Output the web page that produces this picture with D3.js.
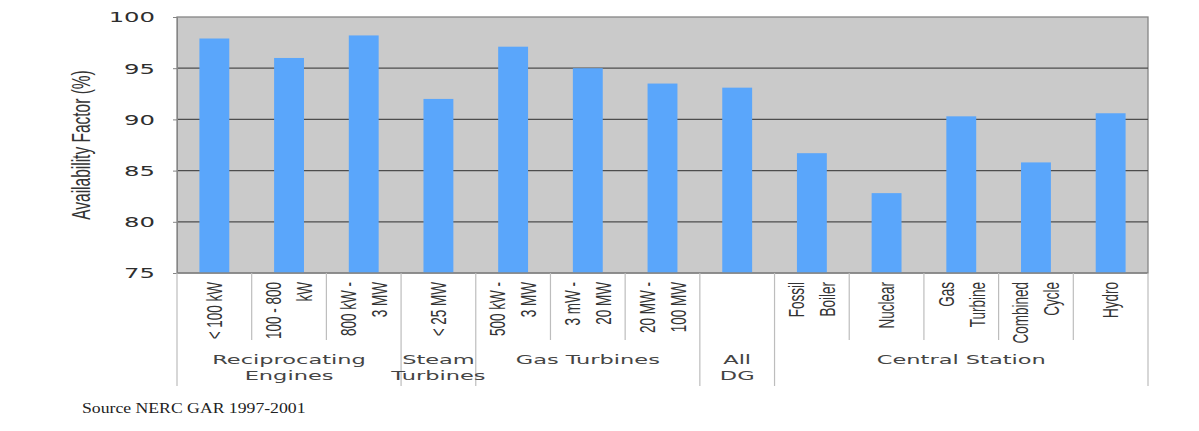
<!DOCTYPE html>
<html>
<head>
<meta charset="utf-8">
<script src="https://cdnjs.cloudflare.com/ajax/libs/d3/7.8.5/d3.min.js"></script>
<style>
  body { margin: 0; background: #fff; }
  svg { display: block; }
</style>
</head>
<body>
<div id="chart"></div>
<script>
// data
const categories = ["< 100 kW", "100 - 800 kW", "800 kW - 3 MW", "< 25 MW", "500 kW - 3 MW",
  "3 mW - 20 MW", "20 MW - 100 MW", "All DG", "Fossil Boiler", "Nuclear", "Gas Turbine",
  "Combined Cycle", "Hydro"];
const categoryLines = [["< 100 kW"], ["100 - 800", "kW"], ["800 kW -", "3 MW"], ["< 25 MW"],
  ["500 kW -", "3 MW"], ["3 mW -", "20 MW"], ["20 MW -", "100 MW"], [], ["Fossil", "Boiler"],
  ["Nuclear"], ["Gas", "Turbine"], ["Combined", "Cycle"], ["Hydro"]];
const availability = [97.9, 96.0, 98.2, 92.0, 97.1, 95.0, 93.5, 93.1, 86.7, 82.8, 90.3, 85.8, 90.6];
const groupNames = [["Reciprocating", "Engines"], ["Steam", "Turbines"], ["Gas Turbines"], ["All", "DG"], ["Central Station"]];
const groupSizes = [3, 1, 3, 1, 5];
const yTicks = [75, 80, 85, 90, 95, 100];

const width = 1199, height = 431;
const plotLeft = 177, plotRight = 1148, plotTop = 17, plotBottom = 273;

const svg = d3.select("#chart").append("svg")
  .attr("width", width)
  .attr("height", height);

const x = d3.scaleBand()
  .domain(categories)
  .range([plotLeft, plotRight])
  .paddingInner(0.6)
  .paddingOuter(0.3);

const y = d3.scaleLinear()
  .domain([75, 100])
  .range([plotBottom, plotTop]);

// plot background
svg.append("rect")
  .attr("x", plotLeft).attr("y", plotTop)
  .attr("width", plotRight - plotLeft).attr("height", plotBottom - plotTop)
  .attr("fill", "#cacaca")
  .attr("stroke", "#858585")
  .attr("stroke-width", 1.3);

// gridlines
svg.append("g")
  .selectAll("line")
  .data(yTicks.slice(1, -1))
  .enter().append("line")
  .attr("x1", plotLeft).attr("x2", plotRight)
  .attr("y1", d => y(d)).attr("y2", d => y(d))
  .attr("stroke", "#4d4d4d")
  .attr("stroke-width", 1.3);

// bars
svg.append("g")
  .selectAll("rect")
  .data(availability)
  .enter().append("rect")
  .attr("x", (d, i) => x(categories[i]))
  .attr("y", d => y(d))
  .attr("width", x.bandwidth())
  .attr("height", d => y(75) - y(d))
  .attr("fill", "#5aa6fb");

// y axis
const yAxis = svg.append("g")
  .attr("transform", `translate(${plotLeft},0)`)
  .call(d3.axisLeft(y).tickValues(yTicks).tickSize(4));
yAxis.select(".domain").attr("stroke", "#858585");
yAxis.selectAll(".tick line").attr("stroke", "#858585");
yAxis.selectAll(".tick text")
  .attr("x", null)
  .attr("dy", "0.36em")
  .attr("transform", "translate(-22,0) scale(1.8,1)")
  .attr("font-family", "DejaVu Sans, sans-serif")
  .attr("font-size", 13.5)
  .attr("fill", "#2e2e2e");

// x axis line
svg.append("line")
  .attr("x1", plotLeft).attr("x2", plotRight)
  .attr("y1", plotBottom).attr("y2", plotBottom)
  .attr("stroke", "#858585")
  .attr("stroke-width", 1.3);

// separators between categories and groups
const groupEdges = [0];
groupSizes.forEach(n => groupEdges.push(groupEdges[groupEdges.length - 1] + n));
const start = x.range()[0];
const sep = d3.range(categories.length + 1).map(i => ({
  x: start + i * x.step(),
  group: groupEdges.includes(i)
}));
svg.append("g")
  .selectAll("line")
  .data(sep)
  .enter().append("line")
  .attr("x1", d => d.x).attr("x2", d => d.x)
  .attr("y1", plotBottom)
  .attr("y2", d => d.group ? 386 : 340)
  .attr("stroke", "#bdbdbd")
  .attr("stroke-width", 1.2);

// category labels (rotated)
const catLabels = svg.append("g")
  .attr("font-family", "Liberation Sans, Arial, sans-serif")
  .attr("font-size", 13.5)
  .attr("fill", "#333");
categoryLines.forEach((lines, i) => {
  const cx = x(categories[i]) + x.bandwidth() / 2;
  lines.forEach((t, j) => {
    const off = lines.length === 1 ? 0 : (j === 0 ? -15.5 : 15.5);
    catLabels.append("text")
      .attr("transform", `translate(${cx + off},282) scale(1.6,1) rotate(-90)`)
      .attr("text-anchor", "end")
      .attr("dy", "0.36em")
      .text(t);
  });
});

// group labels
const grpLabels = svg.append("g")
  .attr("font-family", "DejaVu Sans, sans-serif")
  .attr("font-size", 12.5)
  .attr("fill", "#444");
groupNames.forEach((lines, g) => {
  const gx = start + (groupEdges[g] + groupEdges[g + 1]) / 2 * x.step();
  lines.forEach((t, j) => {
    grpLabels.append("text")
      .attr("transform", `translate(${gx},${364 + j * 16}) scale(1.8,1)`)
      .attr("text-anchor", "middle")
      .text(t);
  });
});

// y axis title
svg.append("text")
  .attr("transform", `translate(80,${(plotTop + plotBottom) / 2}) scale(1.7,1) rotate(-90)`)
  .attr("text-anchor", "middle")
  .attr("dy", "0.36em")
  .attr("font-family", "Liberation Sans, Arial, sans-serif")
  .attr("font-size", 15.5)
  .attr("fill", "#333")
  .text("Availability Factor (%)");

// source note
svg.append("text")
  .attr("transform", "translate(82,413) scale(1.18,1)")
  .attr("font-family", "Liberation Serif, Times New Roman, serif")
  .attr("font-size", 15)
  .attr("fill", "#222")
  .text("Source NERC GAR 1997-2001");
</script>
</body>
</html>
